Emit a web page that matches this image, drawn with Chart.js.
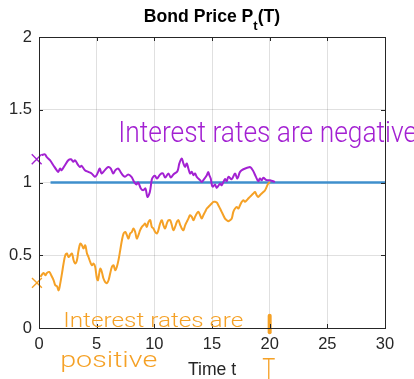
<!DOCTYPE html>
<html>
<head>
<meta charset="utf-8">
<script src="https://cdn.jsdelivr.net/npm/chart.js@4.4.1/dist/chart.umd.min.js"></script>
<style>
  html, body { margin: 0; padding: 0; background: #ffffff; }
  #wrap { width: 414px; height: 379px; position: relative; }
</style>
</head>
<body>
<div id="wrap"><canvas id="bond"></canvas></div>
<script>
// Axis ticks
const xTicks = [0, 5, 10, 15, 20, 25, 30];
const yTicks = [0, 0.5, 1, 1.5, 2];

// Par value line P = 1
const flatTimes = [1, 30];
const flatPrices = [1, 1];

// Sketched bond price path when rates are negative (stays above 1)
const negTimes = [0.23, 0.51, 0.66, 0.95, 1.24, 1.53, 1.67, 1.82, 1.96, 2.25, 2.54, 2.77, 2.97, 3.12, 3.40, 3.55, 3.69, 3.98, 4.27, 4.56, 4.85, 4.99, 5.13, 5.28, 5.42, 5.71, 6.00, 6.23, 6.43, 6.63, 6.87, 7.15, 7.45, 7.73, 8.02, 8.25, 8.45, 8.60, 8.83, 9.03, 9.23, 9.40, 9.61, 9.78, 9.90, 10.07, 10.22, 10.50, 10.74, 10.94, 11.22, 11.43, 11.65, 12.00, 12.17, 12.38, 12.52, 12.67, 12.81, 12.95, 13.10, 13.25, 13.39, 13.53, 13.68, 13.97, 14.11, 14.25, 14.55, 14.68, 14.77, 14.89, 14.98, 15.06, 15.26, 15.41, 15.70, 15.84, 16.13, 16.28, 16.42, 16.71, 17.00, 17.20, 17.43, 17.72, 18.29, 18.44, 18.58, 18.81, 19.01, 19.16, 19.31, 19.45, 19.74, 20.03, 20.46];
const negPrices = [1.188, 1.193, 1.176, 1.153, 1.119, 1.085, 1.073, 1.096, 1.085, 1.119, 1.153, 1.160, 1.142, 1.153, 1.119, 1.107, 1.114, 1.085, 1.073, 1.062, 1.039, 1.050, 1.073, 1.096, 1.062, 1.085, 1.107, 1.096, 1.062, 1.085, 1.096, 1.062, 1.039, 1.055, 1.039, 1.004, 0.986, 1.000, 0.959, 0.947, 0.959, 0.901, 0.935, 1.020, 1.039, 1.045, 1.027, 1.055, 1.062, 1.034, 1.062, 1.034, 1.055, 1.078, 1.131, 1.165, 1.131, 1.107, 1.131, 1.096, 1.062, 1.073, 1.050, 1.062, 1.039, 1.016, 1.004, 1.016, 1.050, 1.073, 1.050, 1.027, 0.986, 0.970, 0.986, 0.963, 0.993, 0.981, 1.023, 1.009, 1.039, 1.023, 1.062, 1.027, 1.073, 1.091, 1.107, 1.096, 1.078, 1.039, 1.009, 1.027, 1.016, 1.032, 1.016, 1.016, 1.004];

// Sketched bond price path when rates are positive (pulls up to 1 at T = 20)
const posTimes = [0.11, 0.40, 0.55, 0.69, 0.89, 1.06, 1.27, 1.41, 1.56, 1.70, 1.84, 1.99, 2.13, 2.28, 2.42, 2.56, 2.71, 2.86, 3.00, 3.14, 3.29, 3.43, 3.58, 3.72, 3.86, 4.01, 4.16, 4.29, 4.44, 4.59, 4.73, 4.87, 5.02, 5.11, 5.22, 5.31, 5.45, 5.59, 5.74, 5.89, 6.03, 6.17, 6.32, 6.46, 6.61, 6.75, 6.89, 7.04, 7.19, 7.33, 7.48, 7.62, 7.76, 7.90, 8.05, 8.19, 8.34, 8.48, 8.62, 8.77, 8.92, 9.06, 9.20, 9.35, 9.49, 9.64, 9.78, 9.92, 10.07, 10.22, 10.35, 10.50, 10.65, 10.79, 10.94, 11.08, 11.22, 11.37, 11.52, 11.65, 11.80, 11.95, 12.09, 12.23, 12.38, 12.52, 12.67, 12.81, 12.95, 13.10, 13.25, 13.39, 13.53, 13.68, 13.82, 13.97, 14.11, 14.25, 14.40, 14.55, 14.68, 14.83, 14.98, 15.12, 15.26, 15.41, 15.55, 15.70, 15.84, 15.98, 16.13, 16.28, 16.42, 16.56, 16.71, 16.85, 17.00, 17.14, 17.28, 17.43, 17.58, 17.72, 17.86, 18.01, 18.15, 18.29, 18.44, 18.58, 18.73, 18.87, 19.01, 19.16, 19.31, 19.45, 19.60, 19.74, 19.88, 20.03];
const posPrices = [0.351, 0.378, 0.362, 0.378, 0.385, 0.362, 0.328, 0.294, 0.287, 0.259, 0.305, 0.374, 0.443, 0.500, 0.512, 0.488, 0.500, 0.512, 0.466, 0.443, 0.466, 0.534, 0.580, 0.569, 0.546, 0.569, 0.512, 0.488, 0.454, 0.431, 0.443, 0.420, 0.340, 0.328, 0.374, 0.409, 0.385, 0.340, 0.316, 0.309, 0.328, 0.374, 0.420, 0.431, 0.397, 0.420, 0.466, 0.534, 0.603, 0.649, 0.660, 0.638, 0.615, 0.649, 0.660, 0.684, 0.660, 0.615, 0.638, 0.672, 0.695, 0.706, 0.718, 0.695, 0.729, 0.741, 0.695, 0.684, 0.660, 0.649, 0.672, 0.718, 0.741, 0.706, 0.684, 0.718, 0.741, 0.741, 0.706, 0.672, 0.695, 0.729, 0.741, 0.711, 0.684, 0.672, 0.706, 0.729, 0.752, 0.775, 0.764, 0.741, 0.764, 0.787, 0.798, 0.775, 0.752, 0.775, 0.798, 0.821, 0.832, 0.844, 0.856, 0.867, 0.867, 0.862, 0.844, 0.821, 0.798, 0.775, 0.752, 0.741, 0.734, 0.741, 0.752, 0.798, 0.821, 0.832, 0.821, 0.844, 0.867, 0.878, 0.867, 0.878, 0.890, 0.901, 0.913, 0.924, 0.935, 0.913, 0.901, 0.913, 0.924, 0.935, 0.947, 0.970, 0.993, 1.004];

// Starting-point crosses and the maturity mark on the time axis
const negStartTimes = [-0.2];
const negStartPrices = [1.16];
const posStartTimes = [-0.18];
const posStartPrices = [0.31];
const maturityTimes = [20, 20];
const maturityPrices = [-0.03, 0.085];

const PURPLE = '#a321d2';
const ORANGE = '#f5a126';
const BLUE = '#3f8fcc';
const AXIS = '#262626';
const TICK_FONT = { family: '"Liberation Sans", Arial, sans-serif', size: 16.5 };
const NOTE_FONT = '"Roboto", "Open Sans", "Liberation Sans Narrow", sans-serif';

const pts = (xs, ys) => xs.map((x, i) => ({ x: x, y: ys[i] }));

// Draws a note string stretched horizontally to a given width
function scribble(ctx, text, x, y, width, size, color, fitText) {
  ctx.save();
  ctx.font = '300 ' + size + 'px ' + NOTE_FONT;
  const w = ctx.measureText(fitText || text).width;
  ctx.translate(x, y);
  ctx.scale(width / w, 1);
  ctx.fillStyle = color;
  ctx.textBaseline = 'alphabetic';
  ctx.textAlign = 'left';
  ctx.fillText(text, 0, 0);
  ctx.restore();
}

const framePlugin = {
  id: 'frame',
  afterDatasetsDraw(chart) {
    const { ctx, chartArea: a, scales: { x, y } } = chart;
    ctx.save();
    ctx.strokeStyle = AXIS;
    ctx.lineWidth = 1;
    ctx.beginPath();
    ctx.rect(Math.round(a.left) + 0.5, Math.round(a.top) + 0.5, Math.round(a.right - a.left), Math.round(a.bottom - a.top));
    ctx.stroke();
    const tl = 4;
    ctx.beginPath();
    xTicks.forEach(v => {
      const px = Math.round(x.getPixelForValue(v)) + 0.5;
      ctx.moveTo(px, a.bottom); ctx.lineTo(px, a.bottom - tl);
      ctx.moveTo(px, a.top); ctx.lineTo(px, a.top + tl);
    });
    yTicks.forEach(v => {
      const py = Math.round(y.getPixelForValue(v)) + 0.5;
      ctx.moveTo(a.left, py); ctx.lineTo(a.left + tl, py);
      ctx.moveTo(a.right, py); ctx.lineTo(a.right - tl, py);
    });
    ctx.stroke();
    ctx.restore();
  },
  afterDraw(chart) {
    const { ctx, chartArea: a, scales: { x, y } } = chart;
    // Title: Bond Price P_t(T)
    ctx.save();
    const big = 'bold 17.6px "Liberation Sans", Arial, sans-serif';
    const small = 'bold 13px "Liberation Sans", Arial, sans-serif';
    ctx.font = big;
    const w1 = ctx.measureText('Bond Price P').width;
    const w3 = ctx.measureText('(T)').width;
    ctx.font = small;
    const w2 = ctx.measureText('t').width;
    const total = w1 + w2 + w3;
    let cx = (a.left + a.right) / 2 - total / 2;
    const base = 22;
    ctx.fillStyle = '#000000';
    ctx.textBaseline = 'alphabetic';
    ctx.textAlign = 'left';
    ctx.font = big;
    ctx.fillText('Bond Price P', cx, base);
    ctx.font = small;
    ctx.fillText('t', cx + w1, base + 8);
    ctx.font = big;
    ctx.fillText('(T)', cx + w1 + w2, base);
    ctx.restore();

    // Hand-written notes
    scribble(ctx, 'Interest rates are negative', x.getPixelForValue(6.87), y.getPixelForValue(1.279), 195, 29, PURPLE, 'Interest rates are');
    scribble(ctx, 'Interest rates are', x.getPixelForValue(2.1), y.getPixelForValue(0.007), 180, 20, ORANGE);
    scribble(ctx, 'positive', x.getPixelForValue(1.84), y.getPixelForValue(-0.27), 97, 22, ORANGE);
    scribble(ctx, 'T', x.getPixelForValue(19.35), y.getPixelForValue(-0.35), 13, 30, ORANGE);
  }
};

new Chart(document.getElementById('bond'), {
  type: 'line',
  data: {
    datasets: [
      { data: pts(flatTimes, flatPrices), borderColor: BLUE, borderWidth: 2.5, pointRadius: 0, tension: 0, order: 4 },
      { data: pts(posTimes, posPrices), borderColor: ORANGE, borderWidth: 2, pointRadius: 0, tension: 0.35, order: 3, clip: false },
      { data: pts(negTimes, negPrices), borderColor: PURPLE, borderWidth: 2, pointRadius: 0, tension: 0.35, order: 2, clip: false },
      { data: pts(maturityTimes, maturityPrices), borderColor: ORANGE, borderWidth: 4, borderCapStyle: 'round', pointRadius: 0, order: 1, clip: false },
      { type: 'scatter', data: pts(negStartTimes, negStartPrices), showLine: false, pointStyle: 'crossRot', pointRadius: 7, pointBorderWidth: 1.4, pointBorderColor: PURPLE, order: 0, clip: false },
      { type: 'scatter', data: pts(posStartTimes, posStartPrices), showLine: false, pointStyle: 'crossRot', pointRadius: 7, pointBorderWidth: 1.4, pointBorderColor: ORANGE, order: 0, clip: false }
    ]
  },
  options: {
    responsive: true,
    maintainAspectRatio: false,
    animation: false,
    devicePixelRatio: 1,
    layout: { padding: { top: 37, right: 29, left: 0, bottom: 0 } },
    plugins: { legend: { display: false }, tooltip: { enabled: false }, title: { display: false } },
    scales: {
      x: {
        type: 'linear', min: 0, max: 30,
        afterBuildTicks: s => { s.ticks = xTicks.map(v => ({ value: v })); },
        afterFit: s => { s.height = 51; },
        ticks: { font: TICK_FONT, color: AXIS, padding: 7, maxRotation: 0, callback: v => String(v) },
        grid: { color: 'rgba(0,0,0,0.12)', drawTicks: false },
        border: { display: true, color: AXIS },
        title: { display: true, text: 'Time t', color: AXIS, font: { family: '"Liberation Sans", Arial, sans-serif', size: 17.6 }, padding: { top: 0, bottom: -2 } }
      },
      y: {
        type: 'linear', min: 0, max: 2,
        afterBuildTicks: s => { s.ticks = yTicks.map(v => ({ value: v })); },
        afterFit: s => { s.width = 39; },
        ticks: { font: TICK_FONT, color: AXIS, padding: 7, callback: v => String(v) },
        grid: { color: 'rgba(0,0,0,0.12)', drawTicks: false },
        border: { display: true, color: AXIS }
      }
    }
  },
  plugins: [framePlugin]
});
</script>
</body>
</html>
